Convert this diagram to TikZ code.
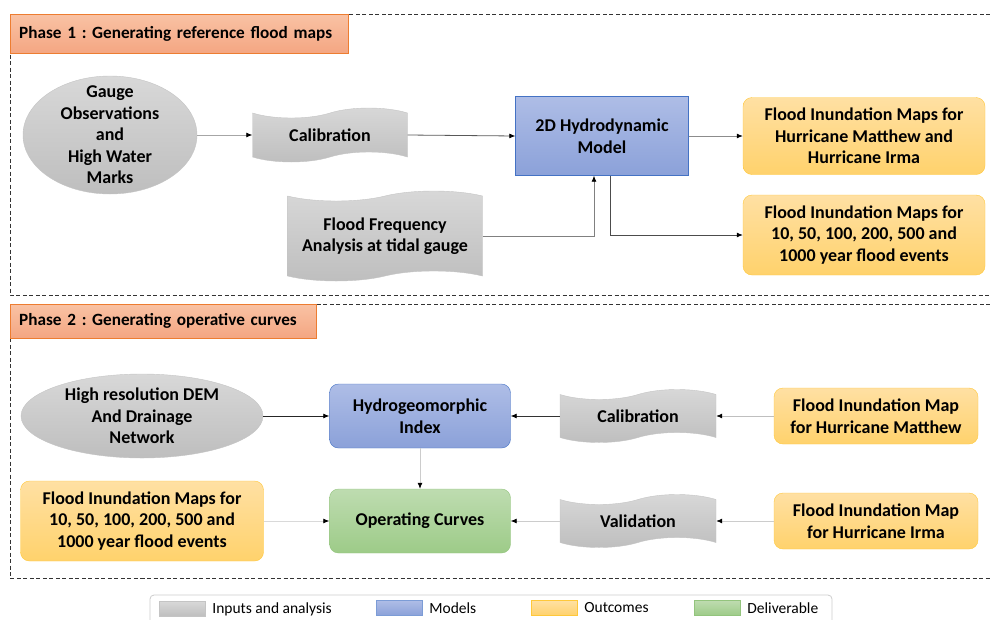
\documentclass[tikz,border=0pt]{standalone}
\usepackage{fontspec}
\setmainfont{Carlito}
\frenchspacing
\usetikzlibrary{positioning,arrows.meta,shapes.symbols,shapes.geometric}

\definecolor{graytop}{HTML}{D8D8D8}
\definecolor{graybot}{HTML}{BEBEBE}
\definecolor{grayline}{HTML}{C4C4C4}
\definecolor{bluetop}{HTML}{AEBDE6}
\definecolor{bluebot}{HTML}{8BA1D9}
\definecolor{blueline}{HTML}{4472C4}
\definecolor{ortop}{HTML}{FFE0A3}
\definecolor{orbot}{HTML}{FFD26C}
\definecolor{orline}{HTML}{FFC83A}
\definecolor{grtop}{HTML}{BEDCB0}
\definecolor{grbot}{HTML}{9DCB88}
\definecolor{grline}{HTML}{93C47D}
\definecolor{phtop}{HTML}{F9C2A4}
\definecolor{phbot}{HTML}{F4A682}
\definecolor{phline}{HTML}{ED7D31}

\tikzset{
  txt/.style={font=\fontsize{18}{21.5}\selectfont\bfseries, align=center},
  input/.style={txt, draw=grayline, top color=graytop, bottom color=graybot},
  obs/.style={input, ellipse, inner sep=0pt},
  tapebox/.style={input, tape, tape bend height=10pt, inner sep=0pt},
  model/.style={txt, draw=blueline, top color=bluetop, bottom color=bluebot},
  outcome/.style={txt, draw=orline, top color=ortop, bottom color=orbot, rounded corners=9pt},
  deliv/.style={txt, draw=grline, top color=grtop, bottom color=grbot, rounded corners=9pt},
  phase/.style={draw=phline, top color=phtop, bottom color=phbot, anchor=north west,
    font=\fontsize{17.2}{20}\selectfont\bfseries, align=left, inner xsep=9pt},
  conn/.style={-{Latex[length=6pt,width=5pt,black]}, line width=0.8pt},
  frame/.style={dashed, dash pattern=on 4pt off 2.5pt, line width=0.8pt, black!80},
  swatch/.style={minimum width=46pt, minimum height=15pt, inner sep=0pt},
  legtxt/.style={font=\fontsize{15.5}{17}\selectfont, right=7pt of #1, inner sep=0pt}
}

\begin{document}
\begin{tikzpicture}[x=1pt, y=-1pt]
  \useasboundingbox (0,0) rectangle (990,619);

  % phase frames
  \draw[frame] (990,14) -- (10,14) -- (10,295) -- (990,295);
  \draw[frame] (990,304) -- (10,304) -- (10,578) -- (990,578);
  \node[phase, minimum width=338pt, minimum height=39pt, text width=320pt] (ph1) at (10,14)
    {Phase 1 : Generating reference flood maps};
  \node[phase, minimum width=306pt, minimum height=34pt, text width=288pt] (ph2) at (10,304)
    {Phase 2 : Generating operative curves};

  % phase 1
  \node[obs, minimum width=174pt, minimum height=118pt,
    label={[txt]center:Gauge\\Observations\\and\\High Water\\Marks}] (gauge) at (110,135) {};
  \node[tapebox, minimum width=155pt, minimum height=54pt] (cal1) at (330,135) {Calibration};
  \node[model, minimum width=173pt, minimum height=79pt] (hydro) at (602,136) {2D Hydrodynamic\\Model};
  \node[outcome, minimum width=242pt, minimum height=77pt] (out1) at (864,136)
    {Flood Inundation Maps for\\Hurricane Matthew and\\Hurricane Irma};
  \node[tapebox, minimum width=195pt, minimum height=90pt] (freq) at (385,236)
    {Flood Frequency\\Analysis at tidal gauge};
  \node[outcome, minimum width=242pt, minimum height=80pt] (out2) at (864,235)
    {Flood Inundation Maps for\\10, 50, 100, 200, 500 and\\1000 year flood events};

  \draw[conn, black!35] (gauge.east) -- (cal1.west);
  \draw[conn, black!65] (cal1.east) -- (hydro.west);
  \draw[conn, black!45] (hydro.east) -- (out1.west);
  \draw[conn, black!50] (freq.east) -| ([xshift=-8pt]hydro.south);
  \draw[conn, black!70] ([xshift=8pt]hydro.south) |- (out2.west);

  % phase 2
  \node[obs, minimum width=242pt, minimum height=84pt,
    label={[txt]center:High resolution DEM\\And Drainage\\Network}] (dem) at (142,416) {};
  \node[model, rounded corners=9pt, minimum width=181pt, minimum height=64pt] (hgi) at (420,416)
    {Hydrogeomorphic\\Index};
  \node[tapebox, minimum width=156pt, minimum height=53pt] (cal2) at (638,416) {Calibration};
  \node[outcome, minimum width=204pt, minimum height=56pt] (matt) at (876,416)
    {Flood Inundation Map\\for Hurricane Matthew};
  \node[deliv, minimum width=181pt, minimum height=64pt] (curves) at (420,521) {Operating Curves};
  \node[outcome, minimum width=243pt, minimum height=80pt] (out3) at (142,521)
    {Flood Inundation Maps for\\10, 50, 100, 200, 500 and\\1000 year flood events};
  \node[tapebox, minimum width=156pt, minimum height=53pt] (valid) at (638,521) {Validation};
  \node[outcome, minimum width=204pt, minimum height=56pt] (irma) at (876,521)
    {Flood Inundation Map\\for Hurricane Irma};

  \draw[conn, black!85] (dem.east) -- (hgi.west);
  \draw[conn, black!80] (cal2.west) -- (hgi.east);
  \draw[conn, black!25] (matt.west) -- (cal2.east);
  \draw[conn, black!20] (hgi.south) -- (curves.north);
  \draw[conn, black!15] (out3.east) -- (curves.west);
  \draw[conn, black!20] (valid.west) -- (curves.east);
  \draw[conn, black!20] (irma.west) -- (valid.east);

  % legend
  \draw[black!20, line width=0.8pt, rounded corners=4pt] (150,630) -- (150,595) -- (832,595) -- (832,630);
  \node[swatch, draw=grayline, top color=graytop, bottom color=graybot] (leg1) at (182,609) {};
  \node[legtxt=leg1] (legt1) {Inputs and analysis};
  \node[swatch, draw=blueline!70, top color=bluetop, bottom color=bluebot] (leg2) at (399,608) {};
  \node[legtxt=leg2] (legt2) {Models};
  \node[swatch, draw=orline, top color=ortop, bottom color=orbot] (leg3) at (554,608) {};
  \node[legtxt=leg3] (legt3) {Outcomes};
  \node[swatch, draw=grline, top color=grtop, bottom color=grbot] (leg4) at (717,608) {};
  \node[legtxt=leg4] (legt4) {Deliverable};
\end{tikzpicture}
\end{document}
